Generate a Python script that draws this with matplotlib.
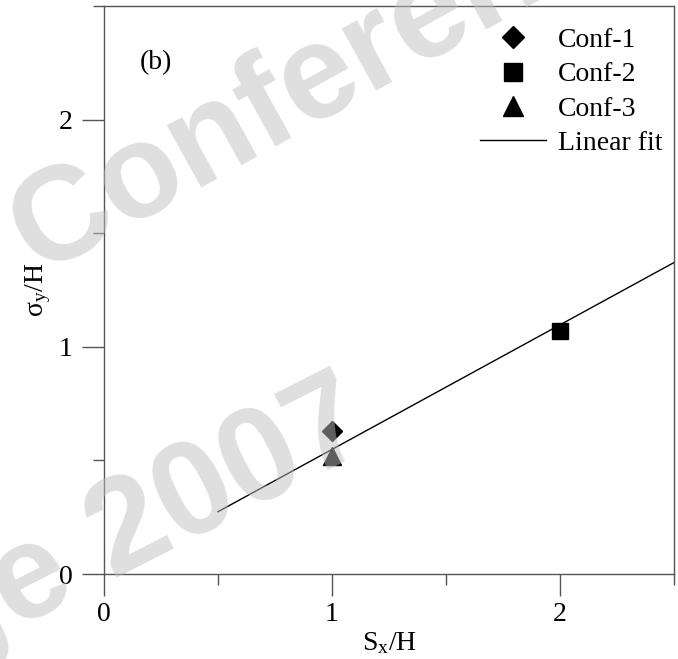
import numpy as np
import matplotlib
matplotlib.use("Agg")
import matplotlib.pyplot as plt
from matplotlib.ticker import MultipleLocator

# ---- data ----
labels = ["Conf-1", "Conf-2", "Conf-3"]
sx_h = [1.0, 2.0, 1.0]
sigma_h = [0.63, 1.07, 0.52]
markers = ["D", "s", "^"]
msizes = [10, 12, 13]
fit_x_range = [0.5, 2.5]
xticks = [0, 1, 2]
yticks = [0, 1, 2]

# linear fit through the origin
xs = np.array(sx_h); ys = np.array(sigma_h)
slope = np.sum(xs * ys) / np.sum(xs * xs)
fx = np.array(fit_x_range)
fy = slope * fx

plt.rcParams['font.family'] = ['Liberation Serif', 'DejaVu Serif']
plt.rcParams['mathtext.fontset'] = 'custom'
plt.rcParams['mathtext.rm'] = 'Liberation Serif'
plt.rcParams['mathtext.it'] = 'Liberation Serif'

W, H = 678, 659
fig = plt.figure(figsize=(W / 100, H / 100), dpi=100)
ax = fig.add_axes([104 / W, 1 - 574 / H, (674 - 104) / W, (574 - 6) / H])

spc = '#555555'
for s in ax.spines.values():
    s.set_color(spc)
    s.set_linewidth(1.0)

for lab, x, y, m, ms in zip(labels, sx_h, sigma_h, markers, msizes):
    ax.plot([x], [y], linestyle='none', marker=m, markersize=ms,
            color='black', label=lab)
ax.plot(fx, fy, color='black', lw=1.0, label='Linear fit')

ax.set_xlim(0, 2.5)
ax.set_ylim(0, 2.5)
ax.xaxis.set_major_locator(plt.FixedLocator(xticks))
ax.yaxis.set_major_locator(plt.FixedLocator(yticks))
ax.xaxis.set_minor_locator(MultipleLocator(0.5))
ax.yaxis.set_minor_locator(MultipleLocator(0.5))
fs = 20
ax.tick_params(which='major', direction='out', length=15.5, width=1.0,
               color=spc, labelsize=fs, pad=5)
ax.tick_params(which='minor', direction='out', length=8, width=1.0, color=spc)
ax.tick_params(axis='y', which='major', pad=7)

ax.set_xlabel(r'S$_{\mathrm{x}}$/H', fontsize=fs, labelpad=2)
ax.set_ylabel(r'$\mathrm{\sigma}_{\mathrm{y}}$/H', fontsize=fs, labelpad=4)

ax.text(0.157, 2.25, '(b)', fontsize=fs, ha='left', va='center')

leg = ax.legend(loc='upper right', bbox_to_anchor=(0.979, 0.962),
                frameon=False, fontsize=fs, handlelength=2.4,
                handletextpad=0.4, labelspacing=0.32, borderpad=0,
                borderaxespad=0, markerscale=1.1, numpoints=1)

# watermark
wm = dict(color=(0.75, 0.75, 0.75), alpha=0.5, fontsize=96,
          fontweight='bold', family='Liberation Sans',
          rotation_mode='anchor', ha='left', va='baseline', zorder=100)
fig.text(38 / W, 1 - 275 / H, 'Conference', rotation=29, **wm)
fig.text(-59 / W, 1 - 667 / H, 'ge 2007', rotation=27, **wm)

fig.savefig('out.png', dpi=100)
